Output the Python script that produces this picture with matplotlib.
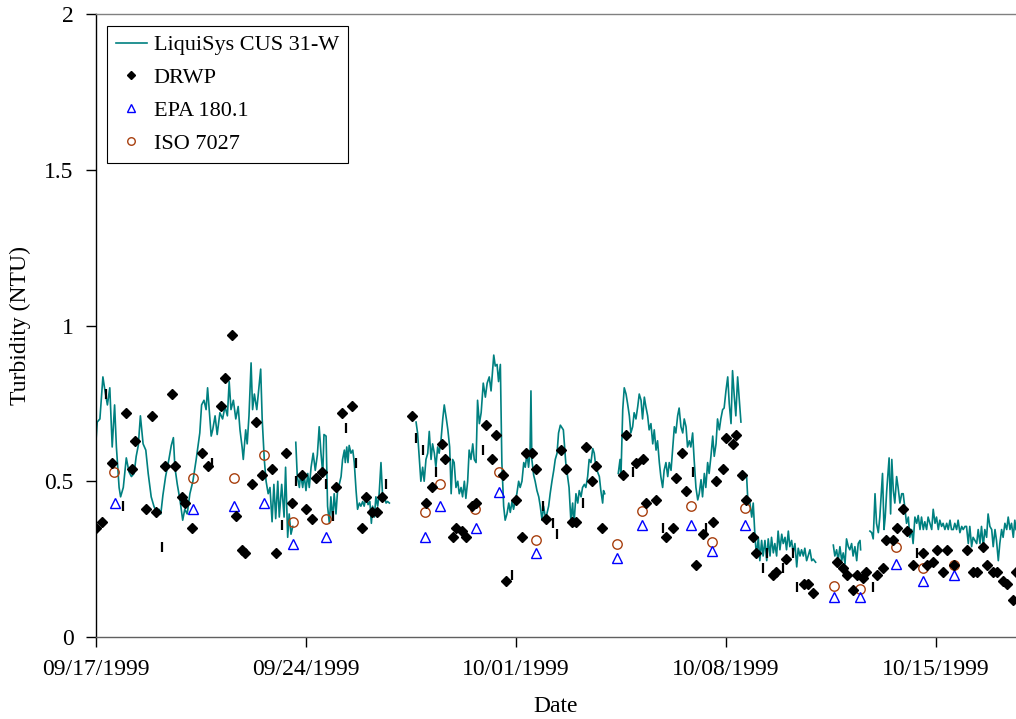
import numpy as np
import pandas as pd
import matplotlib
matplotlib.use("Agg")
import matplotlib.pyplot as plt
import matplotlib.dates as mdates

plt.rcParams["font.family"] = ["Liberation Serif", "DejaVu Serif"]

START = pd.Timestamp("1999-09-17")
NAN = np.nan

# LiquiSys CUS 31-W online readings: days since 09/17/1999, NTU (nan = gap in record)
liq_days = [
    0.00, 0.04, 0.13, 0.23, 0.30, 0.38, 0.46, 0.54, 0.62, 0.68, 0.77, 0.82, 0.91, 1.01,
    1.10, 1.18, 1.27, 1.34, 1.41, 1.48, 1.57, 1.66, 1.74, 1.84, 1.93, 2.02, 2.10, 2.16,
    2.23, 2.32, 2.43, 2.51, 2.58, 2.63, 2.71, 2.80, 2.89, 2.96, 3.04, 3.13, 3.23, 3.34,
    3.46, 3.52, 3.60, 3.67, 3.72, 3.79, 3.84, 3.89, 3.97, 4.04, 4.13, 4.22, 4.30, 4.38,
    4.44, 4.50, 4.58, 4.66, 4.74, 4.80, 4.87, 4.91, 4.99, 5.04, 5.10, 5.17, 5.22, 5.28,
    5.36, 5.43, 5.49, 5.54, 5.61, 5.67, 5.74, 5.80, 5.87, 5.93, 5.99, 6.06, 6.11, 6.19,
    6.27, 6.32, 6.39, 6.44, 6.50, 6.56, 6.61,
    6.66, 6.71, 6.78, 6.82, 6.89, 6.94, 7.00, 7.06, 7.11, 7.17, 7.24, 7.31, 7.38, 7.44,
    7.50, 7.56, 7.60, 7.67, 7.72, 7.78, 7.83, 7.89, 7.94, 8.00, 8.06, 8.11, 8.17, 8.22,
    8.28, 8.31, 8.36, 8.40, 8.44, 8.50, 8.56, 8.61, 8.67, 8.72, 8.78, 8.83, 8.89, 8.94,
    9.00, 9.07, 9.13, 9.18, 9.22, 9.28, 9.33, 9.39, 9.44, 9.50, 9.56, 9.61, 9.67, 9.72,
    9.78, 10.2,
    10.67, 10.72, 10.78, 10.83, 10.89, 10.94, 11.00, 11.06, 11.11, 11.17, 11.22, 11.28,
    11.33, 11.39, 11.44, 11.50, 11.56, 11.61, 11.68, 11.73, 11.79, 11.84, 11.89, 11.94,
    12.00, 12.06, 12.11, 12.17, 12.22, 12.28, 12.33, 12.39, 12.44, 12.50, 12.56, 12.61,
    12.67, 12.72, 12.78, 12.84, 12.91, 12.98, 13.04, 13.11, 13.17, 13.22, 13.26, 13.31,
    13.37, 13.42, 13.48, 13.53, 13.59, 13.64, 13.70, 13.76, 13.81, 13.87, 13.92, 13.98,
    14.03, 14.09, 14.14, 14.20, 14.26, 14.31, 14.37, 14.42, 14.47, 14.50, 14.53, 14.59,
    14.64, 14.70, 14.76, 14.81, 14.87, 14.92, 14.98, 15.03, 15.09, 15.14, 15.20, 15.26,
    15.31, 15.37, 15.42, 15.48, 15.58, 15.66, 15.72, 15.77, 15.83, 15.89, 15.93, 16.00,
    16.06, 16.11, 16.17, 16.22, 16.28, 16.33, 16.39, 16.44, 16.50, 16.56, 16.61, 16.67,
    16.72, 16.78, 16.83, 16.89, 16.92, 16.96, 17.2,
    17.41, 17.47, 17.50, 17.56, 17.61, 17.67, 17.72, 17.78, 17.83, 17.89, 17.94, 18.00,
    18.06, 18.11, 18.17, 18.22, 18.28, 18.33, 18.39, 18.44, 18.50, 18.56, 18.61, 18.67,
    18.72, 18.78, 18.83, 18.89, 18.94, 19.00, 19.06, 19.11, 19.17, 19.22, 19.28, 19.33,
    19.39, 19.44, 19.50, 19.56, 19.61, 19.67, 19.72, 19.78, 19.83, 19.89, 19.94, 20.00,
    20.06, 20.11, 20.17, 20.22, 20.28, 20.33, 20.39, 20.44, 20.50, 20.56, 20.61, 20.67,
    20.72, 20.78, 20.83, 20.89, 20.94, 21.00, 21.06, 21.11, 21.17, 21.22, 21.28, 21.33,
    21.39, 21.44, 21.50, 21.6,
    21.69, 21.73, 21.80, 21.86, 21.91, 21.97, 22.02, 22.08, 22.13, 22.19, 22.24, 22.30,
    22.36, 22.41, 22.47, 22.52, 22.58, 22.63, 22.69, 22.74, 22.80, 22.86, 22.91, 22.97,
    23.02, 23.08, 23.13, 23.19, 23.24, 23.30, 23.36, 23.41, 23.47, 23.52, 23.58, 23.63,
    23.69, 23.74, 23.80, 23.86, 23.91, 23.99, 24.3,
    24.58, 24.63, 24.69, 24.74, 24.80, 24.86, 24.91, 24.97, 25.02, 25.08, 25.13, 25.19,
    25.24, 25.30, 25.36, 25.41, 25.47, 25.49, 25.6,
    25.80, 25.86, 25.91, 25.97, 26.02, 26.08, 26.13, 26.19, 26.22, 26.27, 26.31, 26.36,
    26.41, 26.44, 26.49, 26.53, 26.58, 26.63, 26.69, 26.74, 26.80, 26.86, 26.91, 26.97,
    27.02, 27.08, 27.13, 27.19, 27.24, 27.30, 27.36, 27.41, 27.47, 27.52, 27.58, 27.63,
    27.69, 27.74, 27.80, 27.86, 27.91, 27.97, 28.02, 28.08, 28.13, 28.19, 28.24, 28.30,
    28.36, 28.41, 28.47, 28.52, 28.58, 28.63, 28.69, 28.74, 28.80, 28.86, 28.91, 28.97,
    29.02, 29.08, 29.13, 29.19, 29.24, 29.30, 29.36, 29.41, 29.47, 29.52, 29.58, 29.63,
    29.69, 29.74, 29.80, 29.86, 29.91, 29.97, 30.02, 30.08, 30.13, 30.19, 30.24, 30.30,
    30.36, 30.41, 30.47, 30.52, 30.58, 30.63, 30.67,
]
liq_ntu = [
    0.63, 0.69, 0.70, 0.835, 0.79, 0.745, 0.80, 0.61, 0.745, 0.61, 0.48, 0.45, 0.48, 0.575,
    0.53, 0.515, 0.525, 0.58, 0.615, 0.71, 0.62, 0.60, 0.525, 0.45, 0.42, 0.40, 0.41, 0.395,
    0.455, 0.515, 0.57, 0.615, 0.64, 0.545, 0.49, 0.44, 0.375, 0.41, 0.395, 0.46, 0.50, 0.57,
    0.655, 0.745, 0.76, 0.73, 0.80, 0.71, 0.645, 0.665, 0.71, 0.65, 0.72, 0.70, 0.74, 0.71,
    0.82, 0.73, 0.76, 0.70, 0.74, 0.665, 0.61, 0.57, 0.665, 0.62, 0.71, 0.88, 0.73, 0.78,
    0.73, 0.80, 0.86, 0.70, 0.57, 0.50, 0.46, 0.48, 0.37, 0.49, 0.38, 0.50, 0.385, 0.49,
    0.385, 0.545, 0.32, 0.395, 0.33, 0.355, NAN,
    0.625, 0.515, 0.48, 0.525, 0.48, 0.52, 0.47, 0.525, 0.48, 0.545, 0.59, 0.535, 0.585, 0.675,
    0.59, 0.525, 0.65, 0.645, 0.42, 0.365, 0.45, 0.375, 0.46, 0.395, 0.48, 0.49, 0.515, 0.57,
    0.60, 0.56, 0.61, 0.56, 0.615, 0.59, 0.60, 0.56, 0.47, 0.41, 0.43, 0.42, 0.435, 0.42,
    0.45, 0.425, 0.435, 0.365, 0.42, 0.385, 0.45, 0.42, 0.46, 0.56, 0.44, 0.455, 0.43, 0.435,
    0.43, NAN,
    0.69, 0.655, 0.57, 0.50, 0.545, 0.50, 0.57, 0.59, 0.66, 0.57, 0.62, 0.59,
    0.545, 0.61, 0.59, 0.63, 0.70, 0.745, 0.70, 0.665, 0.61, 0.46, 0.57, 0.56,
    0.48, 0.50, 0.46, 0.48, 0.45, 0.50, 0.445, 0.50, 0.60, 0.57, 0.62, 0.57,
    0.56, 0.76, 0.685, 0.72, 0.815, 0.77, 0.815, 0.835, 0.79, 0.855, 0.905, 0.87,
    0.875, 0.82, 0.875, 0.56, 0.42, 0.375, 0.395, 0.43, 0.40, 0.435, 0.41, 0.44,
    0.46, 0.50, 0.48, 0.50, 0.56, 0.545, 0.59, 0.545, 0.595, 0.79, 0.57, 0.52,
    0.50, 0.47, 0.45, 0.42, 0.375, 0.42, 0.385, 0.395, 0.42, 0.46, 0.50, 0.535,
    0.57, 0.59, 0.655, 0.68, 0.665, 0.56, 0.515, 0.48, 0.375, 0.43, 0.355, 0.46,
    0.43, 0.47, 0.45, 0.48, 0.49, 0.48, 0.515, 0.57, 0.56, 0.605, 0.59, 0.54,
    0.53, 0.515, 0.47, 0.43, 0.47, 0.46, NAN,
    0.525, 0.57, 0.515, 0.73, 0.80, 0.78, 0.75, 0.71, 0.655, 0.675, 0.72, 0.70,
    0.74, 0.78, 0.76, 0.70, 0.77, 0.74, 0.71, 0.665, 0.685, 0.62, 0.665, 0.60,
    0.63, 0.56, 0.515, 0.48, 0.535, 0.56, 0.515, 0.56, 0.535, 0.60, 0.675, 0.655,
    0.71, 0.735, 0.675, 0.655, 0.70, 0.675, 0.61, 0.63, 0.61, 0.655, 0.57, 0.48,
    0.44, 0.46, 0.505, 0.45, 0.525, 0.48, 0.56, 0.525, 0.58, 0.645, 0.58, 0.62,
    0.70, 0.665, 0.70, 0.73, 0.735, 0.79, 0.835, 0.75, 0.685, 0.855, 0.77, 0.71,
    0.835, 0.77, 0.69, NAN,
    0.515, 0.44, 0.43, 0.385, 0.43, 0.32, 0.26, 0.32, 0.245, 0.31, 0.26, 0.31,
    0.245, 0.315, 0.26, 0.32, 0.27, 0.30, 0.26, 0.34, 0.28, 0.33, 0.30, 0.32,
    0.28, 0.34, 0.29, 0.31, 0.27, 0.30, 0.225, 0.285, 0.26, 0.28, 0.26, 0.285,
    0.245, 0.26, 0.28, 0.245, 0.25, 0.24, NAN,
    0.295, 0.26, 0.28, 0.245, 0.29, 0.245, 0.27, 0.235, 0.315, 0.29, 0.28, 0.30,
    0.26, 0.29, 0.245, 0.30, 0.31, 0.28, NAN,
    0.34, 0.335, 0.315, 0.46, 0.365, 0.335, 0.385, 0.48, 0.525, 0.345, 0.385, 0.47,
    0.535, 0.575, 0.395, 0.57, 0.47, 0.43, 0.515, 0.48, 0.43, 0.46, 0.46, 0.41,
    0.365, 0.385, 0.32, 0.345, 0.30, 0.385, 0.365, 0.39, 0.345, 0.385, 0.345, 0.37,
    0.345, 0.385, 0.365, 0.345, 0.41, 0.365, 0.385, 0.345, 0.375, 0.355, 0.365, 0.345,
    0.365, 0.345, 0.375, 0.345, 0.345, 0.365, 0.345, 0.375, 0.335, 0.355, 0.345, 0.355,
    0.355, 0.30, 0.355, 0.29, 0.32, 0.31, 0.30, 0.345, 0.30, 0.355, 0.29, 0.345,
    0.32, 0.395, 0.355, 0.345, 0.29, 0.345, 0.31, 0.245, 0.30, 0.345, 0.32, 0.365,
    0.345, 0.385, 0.345, 0.365, 0.32, 0.375, 0.345,
]

# DRWP grab samples
drwp_days = [
    0.00, 0.20, 0.53, 0.99, 1.20, 1.31, 1.66, 1.86, 1.99, 2.31, 2.53, 2.64, 2.87, 2.97,
    3.19, 3.53, 3.74, 4.17, 4.30, 4.53, 4.66, 4.87, 4.97, 5.20, 5.32, 5.53, 5.86, 5.99,
    6.32, 6.52, 6.87, 6.99, 7.20, 7.32, 7.54, 7.99, 8.20, 8.53, 8.87, 8.99, 9.21, 9.36,
    9.54, 10.54, 10.99, 11.20, 11.55, 11.65, 11.89, 12.00, 12.20, 12.33, 12.53, 12.67,
    12.99, 13.21, 13.33, 13.57, 13.68, 14.00, 14.21, 14.32, 14.53, 14.68, 15.01, 15.50,
    15.68, 15.87, 16.00, 16.34, 16.54, 16.68, 16.87, 17.56, 17.68, 18.01, 18.22, 18.34,
    18.68, 19.01, 19.23, 19.32, 19.54, 19.68, 20.01, 20.22, 20.56, 20.68, 20.89, 21.01,
    21.22, 21.34, 21.54, 21.68, 21.89, 22.01, 22.56, 22.68, 23.01, 23.60, 23.74, 23.91,
    24.69, 24.89, 25.02, 25.22, 25.36, 25.56, 25.67, 26.02, 26.22, 26.33, 26.56, 26.69,
    26.89, 27.02, 27.22, 27.56, 27.69, 27.89, 28.02, 28.24, 28.36, 28.60, 29.02, 29.24,
    29.36, 29.58, 29.69, 29.91, 30.02, 30.22, 30.36, 30.56, 30.67,
]
drwp_ntu = [
    0.35, 0.37, 0.56, 0.72, 0.54, 0.63, 0.41, 0.71, 0.40, 0.55, 0.78, 0.55, 0.45, 0.43,
    0.35, 0.59, 0.55, 0.74, 0.83, 0.97, 0.39, 0.28, 0.27, 0.49, 0.69, 0.52, 0.54, 0.27,
    0.59, 0.43, 0.52, 0.41, 0.38, 0.51, 0.53, 0.48, 0.72, 0.74, 0.35, 0.45, 0.40, 0.40,
    0.45, 0.71, 0.43, 0.48, 0.62, 0.57, 0.32, 0.35, 0.34, 0.32, 0.42, 0.43,
    0.68, 0.57, 0.65, 0.52, 0.18, 0.44, 0.32, 0.59, 0.59, 0.54, 0.38, 0.60,
    0.54, 0.37, 0.37, 0.61, 0.50, 0.55, 0.35, 0.52, 0.65, 0.56, 0.57, 0.43,
    0.44, 0.32, 0.35, 0.51, 0.59, 0.47, 0.23, 0.33, 0.37, 0.50, 0.54, 0.64,
    0.62, 0.65, 0.52, 0.44, 0.32, 0.27, 0.20, 0.21, 0.25, 0.17, 0.17, 0.14,
    0.24, 0.22, 0.20, 0.15, 0.20, 0.19, 0.21, 0.20, 0.22, 0.31, 0.31, 0.35,
    0.41, 0.34, 0.23, 0.27, 0.23, 0.24, 0.28, 0.21, 0.28, 0.23, 0.28, 0.21,
    0.21, 0.29, 0.23, 0.21, 0.21, 0.18, 0.17, 0.12, 0.21,
]

# EPA 180.1 lab method
epa_days = [0.62, 3.23, 4.61, 5.61, 6.58, 7.68, 10.96, 11.47, 12.67, 13.42, 14.68,
            17.38, 18.21, 19.84, 20.54, 21.62, 24.60, 25.47, 26.68, 27.56, 28.60]
epa_ntu = [0.43, 0.41, 0.42, 0.43, 0.30, 0.32, 0.32, 0.42, 0.35, 0.465, 0.27,
           0.255, 0.36, 0.36, 0.275, 0.36, 0.13, 0.13, 0.235, 0.18, 0.20]

# ISO 7027 lab method
iso_days = [0.61, 3.23, 4.60, 5.61, 6.58, 7.68, 10.96, 11.47, 12.64, 13.42, 14.67,
            17.38, 18.21, 19.84, 20.54, 21.62, 24.60, 25.47, 26.68, 27.56, 28.60]
iso_ntu = [0.53, 0.51, 0.51, 0.585, 0.37, 0.38, 0.40, 0.49, 0.41, 0.53, 0.31,
           0.30, 0.405, 0.42, 0.305, 0.415, 0.165, 0.155, 0.29, 0.22, 0.23]

# extra unlabeled readings (short black bars)
bar_days = [0.34, 0.89, 2.21, 3.88, 6.19, 6.67, 7.67, 7.89, 8.33, 8.67, 9.67, 10.67,
            10.89, 11.33, 12.89, 13.87, 14.89, 15.22, 15.37, 16.22, 17.89, 18.89,
            19.89, 20.33, 22.23, 22.36, 22.91, 23.23, 23.36, 25.89, 27.36]
bar_ntu = [0.78, 0.42, 0.29, 0.56, 0.36, 0.50, 0.49, 0.39, 0.67, 0.56, 0.49, 0.64,
           0.60, 0.53, 0.60, 0.20, 0.42, 0.365, 0.33, 0.43, 0.53, 0.35,
           0.53, 0.35, 0.22, 0.27, 0.22, 0.27, 0.16, 0.16, 0.27]

x_ticks = [0, 7, 14, 21, 28]
x_end = 30.67
y_ticks = [0, 0.5, 1, 1.5, 2]
y_labels = ["0", "0.5", "1", "1.5", "2"]


def to_dates(days):
    return START + pd.to_timedelta(np.asarray(days, dtype=float), unit="D")


fig = plt.figure(figsize=(10.16, 7.19), dpi=100)
ax = fig.add_axes([96 / 1016, 1 - 637 / 719, 920 / 1016, 623 / 719])

h_liq, = ax.plot(to_dates(liq_days), liq_ntu, color="#008080", lw=1.2, zorder=2,
                 label="LiquiSys CUS 31-W")
h_iso, = ax.plot(to_dates(iso_days), iso_ntu, ls="none", marker="o", ms=6.8,
                 mfc="none", mec="#A8400F", mew=1.0, zorder=3, label="ISO 7027")
h_epa, = ax.plot(to_dates(epa_days), epa_ntu, ls="none", marker="^", ms=6.8,
                 mfc="none", mec="#0000FF", mew=1.0, zorder=3, label="EPA 180.1")
ax.plot(to_dates(bar_days), bar_ntu, ls="none", marker="|", ms=7.5, mew=1.6,
        color="black", zorder=3)
h_drwp, = ax.plot(to_dates(drwp_days), drwp_ntu, ls="none", marker="D", ms=5.3,
                  color="black", zorder=4, label="DRWP")

ax.set_xlim(to_dates([0])[0], to_dates([x_end])[0])
ax.set_ylim(0, 2)
ax.set_xticks(to_dates(x_ticks))
ax.xaxis.set_major_formatter(mdates.DateFormatter("%m/%d/%Y"))
ax.set_yticks(y_ticks)
ax.set_yticklabels(y_labels)
ax.tick_params(axis="both", direction="out", length=7, width=1, labelsize=17,
               colors="black")
ax.tick_params(axis="x", pad=9)
ax.tick_params(axis="y", pad=9)

ax.spines["right"].set_visible(False)
ax.spines["top"].set_color("#808080")
ax.spines["bottom"].set_color("#606060")
ax.spines["left"].set_color("black")
for s in ax.spines.values():
    s.set_linewidth(1)

ax.set_xlabel("Date", fontsize=17, labelpad=11)
ax.set_ylabel("Turbidity (NTU)", fontsize=17, labelpad=10)

leg = ax.legend(handles=[h_liq, h_drwp, h_epa, h_iso], loc="upper left",
                bbox_to_anchor=(0.012, 0.981), borderaxespad=0, fontsize=16,
                frameon=True, fancybox=False, framealpha=1, edgecolor="black",
                handlelength=1.4, handletextpad=0.3, labelspacing=0.55,
                borderpad=0.4, markerscale=0.8)
leg.get_frame().set_linewidth(0.8)

fig.savefig("out.png", dpi=100)
